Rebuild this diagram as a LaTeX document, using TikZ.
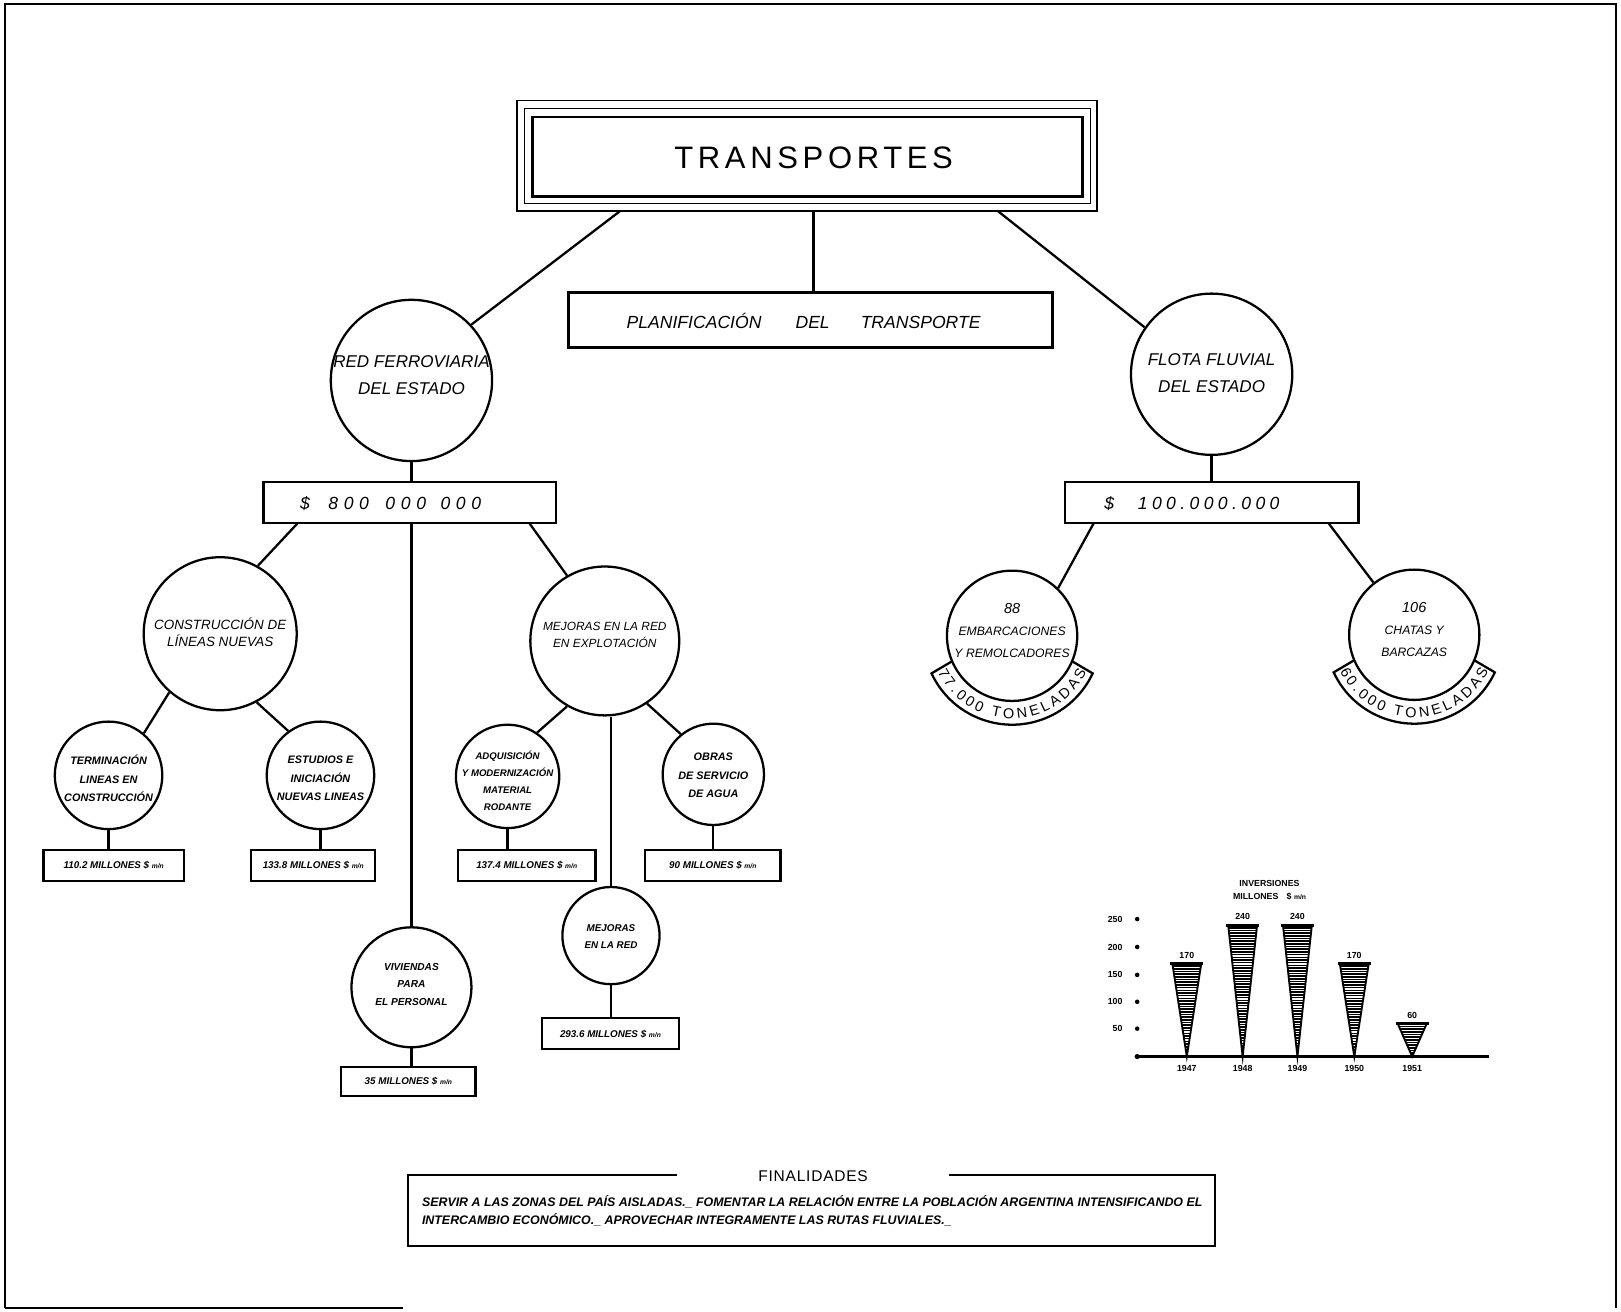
\documentclass[tikz,border=0pt]{standalone}
\usepackage{fontspec}
\setmainfont{Liberation Sans}
\usetikzlibrary{calc,decorations.text}
\newcommand\monnac{{\fontsize{6.5}{7}\selectfont m/n}}
\newcommand\funnelbar[3]{%
  \pgfmathsetmacro\ytop{1022-0.53*#2}
  \begin{scope}
    \clip (#1-14,\ytop) -- (#1+14,\ytop) -- (#1,1022) -- cycle;
    \foreach \yy in {0,2.6,...,135} {\draw[line width=1.5pt] (#1-16,\ytop+\yy) -- (#1+16,\ytop+\yy);}
  \end{scope}
  \draw[line width=1.8pt] (#1-14,\ytop) -- (#1,1022) -- (#1+14,\ytop);
  \draw[line width=3pt] (#1-16,\ytop) -- (#1+16,\ytop);
  \node[cht] (v#3) at (#1,\ytop-8) {#2};
}
\begin{document}
\begin{tikzpicture}[x=1pt,y=-1pt,
  ln/.style={line width=2.2pt},
  cir/.style={circle, draw, line width=2.2pt, inner sep=0pt},
  bx/.style={rectangle, draw, line width=2.2pt, inner sep=0pt},
  big/.style={font=\fontsize{16.5}{26}\selectfont\itshape, align=center, inner sep=0pt},
  mid/.style={font=\fontsize{13}{17}\selectfont\itshape, align=center, inner sep=0pt},
  sml/.style={font=\fontsize{10.5}{18}\selectfont\bfseries\itshape, align=center, inner sep=0pt},
  flt/.style={font=\fontsize{11.8}{21}\selectfont\itshape, align=center, inner sep=0pt},
  bxt/.style={font=\fontsize{9.5}{11}\selectfont\bfseries\itshape, inner sep=0pt},
  cht/.style={font=\fontsize{8.5}{10}\selectfont\bfseries, inner sep=0pt},
  ban/.style={decorate, decoration={text along path, text align={fit to path},
     text={|\fontsize{14}{14}\selectfont|#1}}},
 ]
\useasboundingbox (0,0) rectangle (1568,1269);
\fill[white] (0,0) rectangle (1568,1269);
% frame
\draw[line width=2pt] (5,1265) -- (5,4) -- (1563,4) -- (1563,1265);
\draw[line width=2pt] (5,1265) -- (390,1265);

% title
\node[draw, line width=1.5pt, minimum width=561pt, minimum height=107pt, inner sep=0pt] (tout) at (780.5,150.5) {};
\node[draw, line width=1pt, minimum width=548pt, minimum height=92pt, inner sep=0pt] (tmid) at (781,151) {};
\node[draw, line width=2.5pt, minimum width=532pt, minimum height=77pt, inner sep=0pt] (tin) at (781,151.5) {};
\node[font=\fontsize{30}{30}\selectfont\addfontfeature{LetterSpace=15}, inner sep=0pt] (ttext) at (787,153) {TRANSPORTES};

% planificacion
\node[bx, minimum width=468pt, minimum height=53pt] (plan) at (784,309.5) {};
\node[font=\fontsize{17}{17}\selectfont\itshape, anchor=west, inner sep=0pt] (plant) at (606,310) {PLANIFICACIÓN\hspace{33pt}DEL\hspace{30pt}TRANSPORTE};

% main circles
\node[cir, minimum size=156pt] (red) at (398,368) {};
\node[big] (redt) at (398,363) {RED FERROVIARIA\\DEL ESTADO};
\node[cir, minimum size=156pt] (flota) at (1172,362) {};
\node[big] (flotat) at (1172,361) {FLOTA FLUVIAL\\DEL ESTADO};

\coordinate (t1) at (600,204);
\coordinate (t2) at (787,204);
\coordinate (t3) at (965,204);
\draw[ln] (t1) -- (red.43);
\draw[ln] (t2) -- (t2 |- plan.north);
\draw[ln] (t3) -- (flota.145);

% amount boxes
\node[bx, minimum width=283pt, minimum height=40pt] (b800) at (396.5,486) {};
\node[font=\fontsize{17}{17}\selectfont\itshape\addfontfeature{LetterSpace=32}, anchor=west, inner sep=0pt] (b800t) at (290,487) {\$\hspace{18pt}800\hspace{16pt}000\hspace{14pt}000};
\node[bx, minimum width=284pt, minimum height=40pt] (b100) at (1172,486) {};
\node[font=\fontsize{17}{17}\selectfont\itshape\addfontfeature{LetterSpace=25}, anchor=west, inner sep=0pt] (b100t) at (1068,487) {\$\hspace{23pt}100.000.000};
\draw[ln] (red.south) -- (red.south |- b800.north);
\draw[ln] (flota.south) -- (flota.south |- b100.north);

% second level
\node[cir, minimum size=148pt] (constr) at (213,613) {};
\node[mid] (constrt) at (213,611.5) {CONSTRUCCIÓN DE\\LÍNEAS NUEVAS};
\node[cir, minimum size=144pt] (mej) at (585,620) {};
\node[mid, font=\fontsize{11.5}{16}\selectfont\itshape] (mejt) at (585,614) {MEJORAS EN LA RED\\EN EXPLOTACIÓN};
\node[cir, minimum size=116pt] (viv) at (398,955) {};
\node[sml, font=\fontsize{9.8}{17}\selectfont\bfseries\itshape] (vivt) at (398,952) {VIVIENDAS\\PARA\\EL PERSONAL};

\coordinate (b800a) at (288,506);
\coordinate (b800c) at (512,506);
\draw[ln] (b800a) -- (constr.61);
\draw[ln] (b800c) -- (mej.120);
\draw[ln] (b800.south -| viv.north) -- (viv.north);

% third level left
\node[cir, minimum size=104pt] (term) at (105,750) {};
\node[sml] (termt) at (105,753) {TERMINACIÓN\\LINEAS EN\\CONSTRUCCIÓN};
\node[cir, minimum size=104pt] (est) at (310,750) {};
\node[sml] (estt) at (310,753) {ESTUDIOS E\\INICIACIÓN\\NUEVAS LINEAS};
\draw[ln] (constr.229) -- (term.50);
\draw[ln] (constr.298) -- (est.126);

% third level right
\node[cir, minimum size=100pt] (adq) at (491,751) {};
\node[sml, font=\fontsize{9.3}{16.5}\selectfont\bfseries\itshape] (adqt) at (491,755) {ADQUISICIÓN\\Y MODERNIZACIÓN\\MATERIAL\\RODANTE};
\node[cir, minimum size=98pt] (obras) at (690,749) {};
\node[sml] (obrast) at (690,750) {OBRAS\\DE SERVICIO\\DE AGUA};
\node[cir, minimum size=94pt] (mejr) at (591,905) {};
\node[sml, font=\fontsize{9.5}{17}\selectfont\bfseries\itshape] (mejrt) at (591,906) {MEJORAS\\EN LA RED};
\draw[ln] (mej.240) -- (adq.56);
\draw[ln] (mej.304) -- (obras.129);
\draw[ln] (mejr.north |- mej.south) -- (mejr.north);

% value boxes
\node[bx, minimum width=136pt, minimum height=30pt] (b1102) at (110,837) {};
\node[bxt] (b1102t) at (110,837) {110.2 MILLONES \$ \monnac};
\node[bx, minimum width=120pt, minimum height=30pt] (b1338) at (303,837) {};
\node[bxt] (b1338t) at (303,837) {133.8 MILLONES \$ \monnac};
\node[bx, minimum width=133pt, minimum height=30pt] (b1374) at (509.5,837) {};
\node[bxt] (b1374t) at (509.5,837) {137.4 MILLONES \$ \monnac};
\node[bx, minimum width=131pt, minimum height=30pt] (b90) at (689.5,837) {};
\node[bxt] (b90t) at (689.5,837) {90 MILLONES \$ \monnac};
\node[bx, minimum width=133pt, minimum height=30pt] (b2936) at (590.5,1000) {};
\node[bxt] (b2936t) at (590.5,1000) {293.6 MILLONES \$ \monnac};
\node[bx, minimum width=130pt, minimum height=28pt] (b35) at (395,1046) {};
\node[bxt] (b35t) at (395,1046) {35 MILLONES \$ \monnac};

\draw[ln] (term.south) -- (term.south |- b1102.north);
\draw[ln] (est.south) -- (est.south |- b1338.north);
\draw[ln] (adq.south) -- (adq.south |- b1374.north);
\draw[ln] (obras.south) -- (obras.south |- b90.north);
\draw[ln] (mejr.south) -- (mejr.south |- b2936.north);
\draw[ln] (viv.south) -- (viv.south |- b35.north);

% flota children
\node[cir, minimum size=126pt] (c88) at (979,615) {};
\node[flt] (c88t) at (979,610) {{\fontsize{14}{14}\selectfont 88}\\EMBARCACIONES\\Y REMOLCADORES};
\node[cir, minimum size=126pt] (c106) at (1368,614) {};
\node[flt] (c106t) at (1368,609) {{\fontsize{14}{14}\selectfont 106}\\CHATAS Y\\BARCAZAS};
\coordinate (b100a) at (1058,506);
\coordinate (b100c) at (1285,506);
\draw[ln] (b100a) -- (c88.46);
\draw[ln] (b100c) -- (c106.128);

% banners
\draw[ln] ($(c88)+(157:63)$) -- ($(c88)+(155:86)$) arc[start angle=155, end angle=25, radius=86] -- ($(c88)+(23:63)$);
\path[ban={77.000 TONELADAS}] ($(c88)+(154:80)$) arc[start angle=154, end angle=26, radius=80];
\draw[ln] ($(c106)+(157:63)$) -- ($(c106)+(155:86)$) arc[start angle=155, end angle=25, radius=86] -- ($(c106)+(23:63)$);
\path[ban={60.000 TONELADAS}] ($(c106)+(154:80)$) arc[start angle=154, end angle=26, radius=80];

% chart
\node[cht] (invt) at (1228,855) {INVERSIONES};
\node[cht] (invm) at (1228,867) {MILLONES\hspace{8pt}\$ \monnac};
\foreach \v/\yy in {250/889,200/916,150/943,100/969,50/995} {
  \node[cht, anchor=east] (y\v) at (1086,\yy) {\v};
  \fill (1100,\yy) circle[radius=2.2pt];
}
\fill (1100,1022) circle[radius=2.5pt];
\coordinate (ax0) at (1100,1022);
\coordinate (ax1) at (1440,1022);
\draw[line width=2.5pt] (ax0) -- (ax1);
\funnelbar{1148}{170}{a}
\funnelbar{1202}{240}{b}
\funnelbar{1255}{240}{c}
\funnelbar{1310}{170}{d}
\funnelbar{1366}{60}{e}
\foreach \x/\yr in {1148/1947,1202/1948,1255/1949,1310/1950,1366/1951} {
  \node[cht] (yr\yr) at (\x,1034) {\yr};
}

% finalidades
\node[draw, line width=2pt, minimum width=780pt, minimum height=68pt, inner sep=0pt] (fin) at (785,1171) {};
\node[fill=white, minimum width=263pt, inner sep=2pt, font=\fontsize{15}{15}\selectfont\addfontfeature{LetterSpace=5}] (fint) at (786.5,1138) {FINALIDADES};
\node[anchor=west, align=left, inner sep=0pt, font=\fontsize{12}{17}\selectfont\bfseries\itshape] (fintext) at (408,1171) {SERVIR A LAS ZONAS DEL PAÍS AISLADAS.\_ FOMENTAR LA RELACIÓN ENTRE LA POBLACIÓN ARGENTINA INTENSIFICANDO EL\\INTERCAMBIO ECONÓMICO.\_ APROVECHAR INTEGRAMENTE LAS RUTAS FLUVIALES.\_};
\end{tikzpicture}
\end{document}
